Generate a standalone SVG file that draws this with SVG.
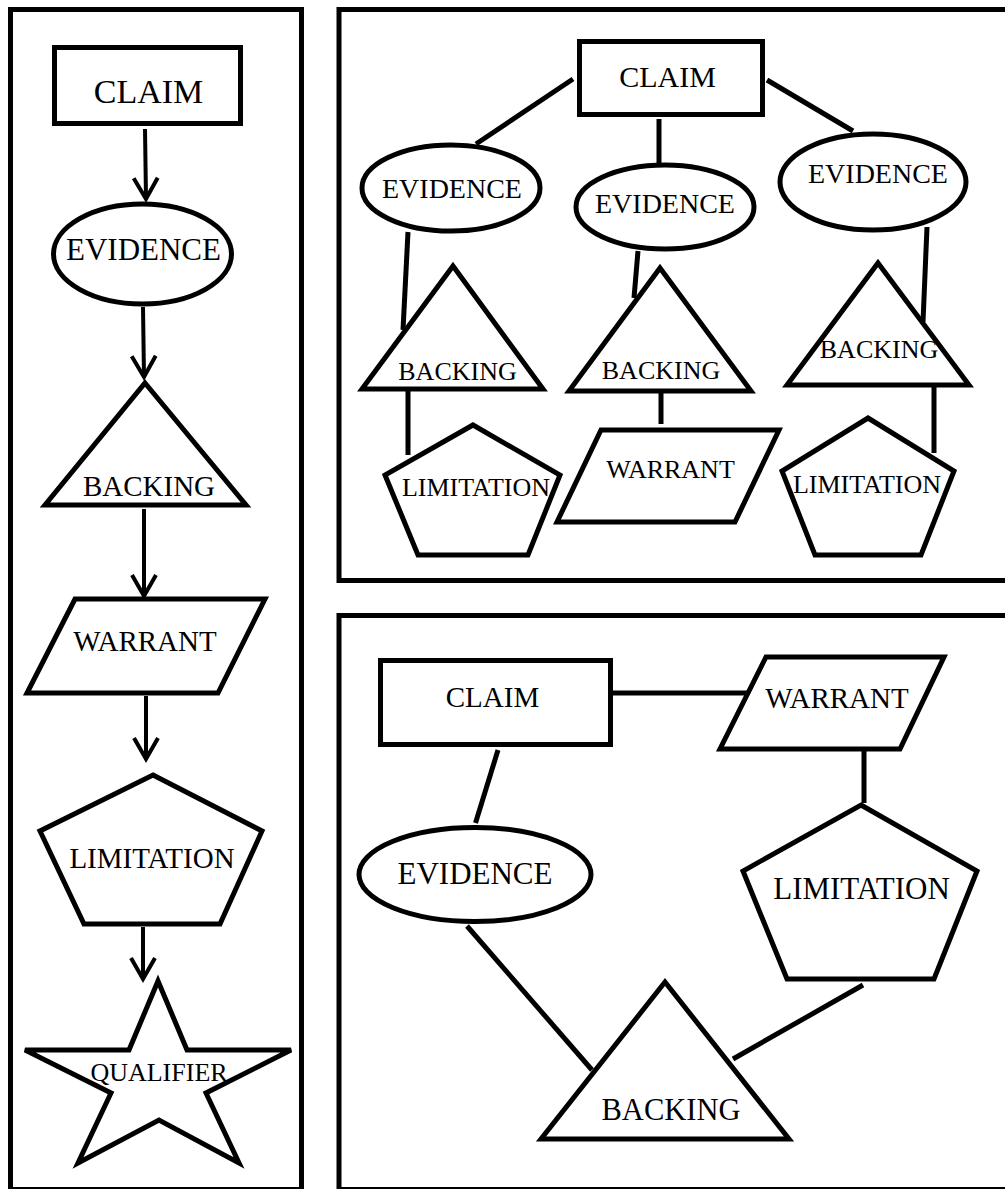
<svg xmlns="http://www.w3.org/2000/svg" width="1005" height="1189" viewBox="0 0 1005 1189">
<style>
.sh{fill:#fff;stroke:#000;stroke-width:5;stroke-linejoin:miter}
.pn{fill:none;stroke:#000;stroke-width:5}
.ln{fill:none;stroke:#000;stroke-width:5}
.ar{fill:none;stroke:#000;stroke-width:4;marker-end:url(#v)}
text{font-family:"Liberation Serif","Times New Roman",serif;fill:#000;text-anchor:middle}
</style>
<defs>
<marker id="v" markerUnits="userSpaceOnUse" markerWidth="30" markerHeight="30" viewBox="-24 -15 28 30" refX="0" refY="0" orient="auto">
<path d="M-21,-12 L0,0 L-21,12" fill="none" stroke="#000" stroke-width="4"/>
</marker>
</defs>
<rect width="1005" height="1189" fill="#fff"/>
<g id="panels">
<rect class="pn" x="10.5" y="9.5" width="291" height="1180"/>
<rect class="pn" x="339" y="9.5" width="700" height="571"/>
<rect class="pn" x="339" y="615.5" width="700" height="574"/>
</g>
<g id="connectors">
<line class="ar" x1="145" y1="129" x2="146" y2="199"/>
<line class="ar" x1="143" y1="307" x2="144" y2="377"/>
<line class="ar" x1="144" y1="509" x2="144" y2="596"/>
<line class="ar" x1="146" y1="696" x2="146" y2="759"/>
<line class="ar" x1="143" y1="927" x2="143" y2="979"/>
<line class="ln" x1="573" y1="79" x2="476" y2="144"/>
<line class="ln" x1="659" y1="119" x2="659" y2="163"/>
<line class="ln" x1="767" y1="80" x2="853" y2="131"/>
<line class="ln" x1="408" y1="232" x2="403" y2="330"/>
<line class="ln" x1="638" y1="251" x2="634" y2="298"/>
<line class="ln" x1="927" y1="227" x2="923" y2="322"/>
<line class="ln" x1="408" y1="391" x2="408" y2="455"/>
<line class="ln" x1="661" y1="393" x2="661" y2="424"/>
<line class="ln" x1="934" y1="387" x2="934" y2="453"/>
<line class="ln" x1="613" y1="693" x2="748" y2="693"/>
<line class="ln" x1="864" y1="751" x2="864" y2="803"/>
<line class="ln" x1="498" y1="750" x2="475.5" y2="823"/>
<line class="ln" x1="467" y1="926" x2="592" y2="1070"/>
<line class="ln" x1="863" y1="985" x2="733" y2="1059"/>
</g>
<g id="l-claim"><rect class="sh" x="54.5" y="47.5" width="186" height="76"/><text x="148.5" y="103" font-size="34">CLAIM</text></g>
<g id="l-evidence"><ellipse class="sh" cx="142.5" cy="254" rx="89" ry="50"/><text x="143.5" y="260" font-size="31">EVIDENCE</text></g>
<g id="l-backing"><polygon class="sh" points="145,383 246,505 45,505"/><text x="149" y="496" font-size="29">BACKING</text></g>
<g id="l-warrant"><polygon class="sh" points="75,599 265,599 218,693 27,693"/><text x="145" y="651" font-size="29">WARRANT</text></g>
<g id="l-limitation"><polygon class="sh" points="153,775 262,831 220,924 84,924 40,831"/><text x="152" y="868" font-size="29">LIMITATION</text></g>
<g id="l-qualifier"><polygon class="sh" points="158,981 187,1050 291,1050 206,1093 239,1163 159,1120 78,1163 111,1093 25,1050 129,1050"/><text x="159" y="1081" font-size="26">QUALIFIER</text></g>
<g id="t-claim"><rect class="sh" x="579.5" y="41.5" width="183" height="73"/><text x="667.5" y="87" font-size="30">CLAIM</text></g>
<g id="t-evidence1"><ellipse class="sh" cx="451" cy="188" rx="89" ry="43"/><text x="452" y="198" font-size="28">EVIDENCE</text></g>
<g id="t-evidence2"><ellipse class="sh" cx="665" cy="207" rx="89" ry="42"/><text x="665" y="213" font-size="28">EVIDENCE</text></g>
<g id="t-evidence3"><ellipse class="sh" cx="873" cy="182" rx="93" ry="48"/><text x="878" y="183" font-size="28">EVIDENCE</text></g>
<g id="t-backing1"><polygon class="sh" points="453,266 543,389 362,389"/><text x="457.5" y="380" font-size="26">BACKING</text></g>
<g id="t-backing2"><polygon class="sh" points="660,268 751,391 569,391"/><text x="661" y="379" font-size="26">BACKING</text></g>
<g id="t-backing3"><polygon class="sh" points="878,263 969,385 787,385"/><text x="879" y="358" font-size="26">BACKING</text></g>
<g id="t-limitation1"><polygon class="sh" points="473,425 560,475 528,555 418,555 385,475"/><text x="476" y="496" font-size="26">LIMITATION</text></g>
<g id="t-warrant"><polygon class="sh" points="601,430 779,430 735,522 557,522"/><text x="670.5" y="478" font-size="26">WARRANT</text></g>
<g id="t-limitation2"><polygon class="sh" points="868,418 954,471 921,555 815,555 782,471"/><text x="867" y="493" font-size="26">LIMITATION</text></g>
<g id="b-claim"><rect class="sh" x="380.5" y="660.5" width="230" height="84"/><text x="492.5" y="707" font-size="29">CLAIM</text></g>
<g id="b-warrant"><polygon class="sh" points="766,657 944,657 900,749 720,749"/><text x="837" y="708" font-size="29">WARRANT</text></g>
<g id="b-limitation"><polygon class="sh" points="861,805 977,871 934,979 787,979 743,871"/><text x="861.5" y="899" font-size="31">LIMITATION</text></g>
<g id="b-evidence"><ellipse class="sh" cx="475" cy="874.5" rx="116" ry="47"/><text x="475" y="884" font-size="31">EVIDENCE</text></g>
<g id="b-backing"><polygon class="sh" points="665,982 789,1139 541,1139"/><text x="671" y="1120" font-size="30.5">BACKING</text></g>
</svg>
